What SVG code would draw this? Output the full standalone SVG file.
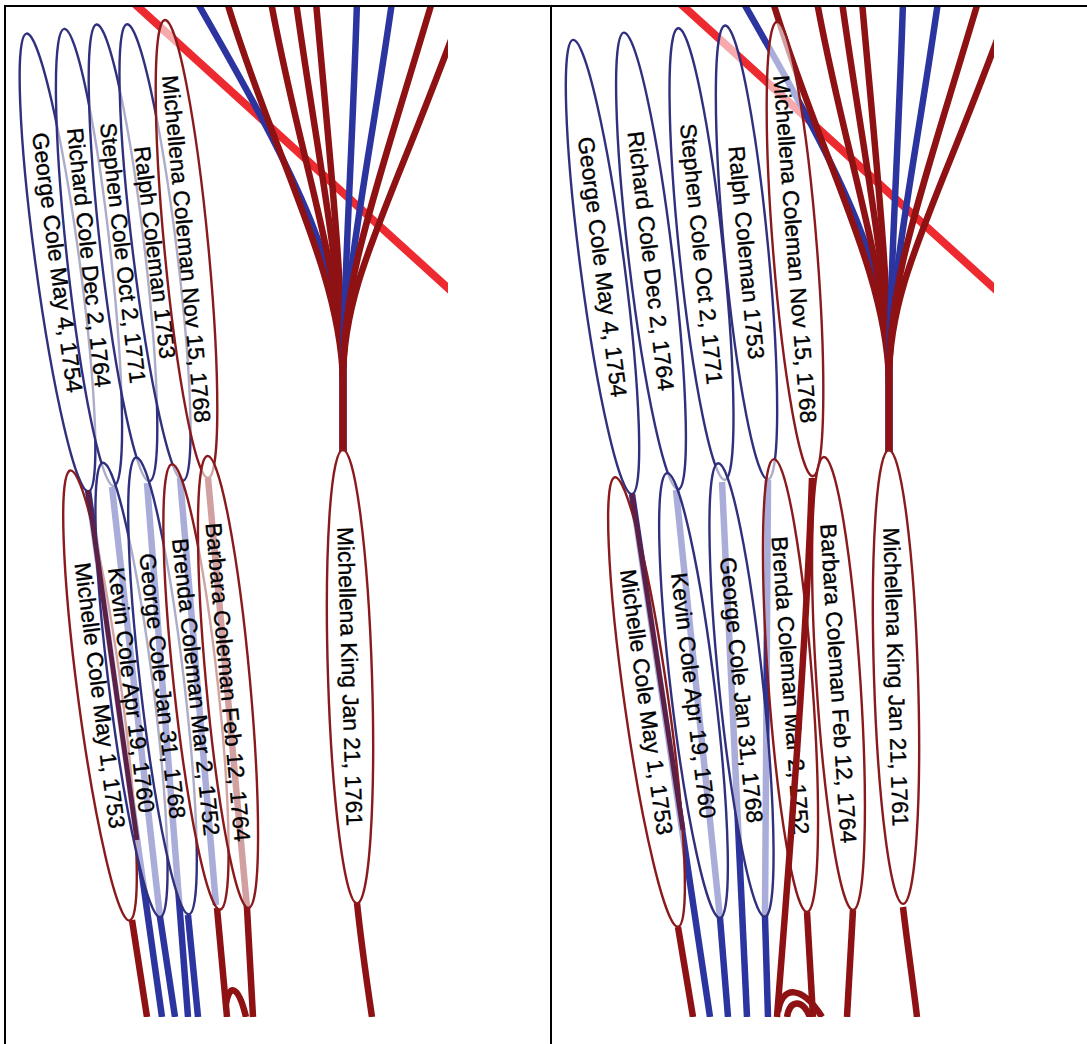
<svg xmlns="http://www.w3.org/2000/svg" width="1087" height="1044" viewBox="0 0 1087 1044">
<style>
.nb{fill:#fff;fill-opacity:.6;stroke:#30307e;stroke-width:2.4}
.nr{fill:#fff;fill-opacity:.6;stroke:#8a1a1c;stroke-width:2.4}
text{font-family:"Liberation Sans",Arial,sans-serif;font-size:22.8px;fill:#000;stroke:#000;stroke-width:.35;text-anchor:middle;dominant-baseline:central}
.eb{fill:none;stroke:#2c34a0;stroke-width:6.5}
.er{fill:none;stroke:#8e1214;stroke-width:6.5}
.ed{fill:none;stroke:#5a2048;stroke-width:5}
.strike{fill:none;stroke:#ec2a30;stroke-width:8}
.frame{stroke:#000;stroke-width:2;fill:none}
</style>
<defs>
<clipPath id="cl"><rect x="7" y="7" width="441" height="1010"/></clipPath>
<clipPath id="cr"><rect x="553" y="7" width="441" height="1010"/></clipPath>
<g id="fan">
<path class="eb" d="M197,2 C305,190 343,270 343,380 L343,452"/>
<path class="er" d="M227,2 C275,160 340,270 343,380 L343,452"/>
<path class="er" d="M271,2 C300,160 342,270 343,380 L343,452"/>
<path class="er" d="M296,2 C318,160 342,270 343,380 L343,452"/>
<path class="er" d="M316,2 C330,160 342,270 343,380 L343,452"/>
<path class="eb" d="M357,2 C352,160 344,270 343,380 L343,452"/>
<path class="eb" d="M392,2 C368,170 345,270 343,380 L343,452"/>
<path class="er" d="M432,2 C370,210 343,280 343,380 L343,452"/>
<path class="er" d="M465,2 C390,210 343,280 343,380 L343,452"/>
</g>
</defs>
<rect width="1087" height="1044" fill="#fff"/>
<g id="frame">
<path class="frame" d="M4,6 H1087 M5,5 V1044 M551,5 V1044"/>
</g>
<g id="strikes">
<line class="strike" x1="125" y1="-5" x2="460" y2="299" clip-path="url(#cl)"/>
<line class="strike" x1="671" y1="-5" x2="1006" y2="299" clip-path="url(#cr)"/>
</g>
<g id="connectors">
<g clip-path="url(#cl)">
<use href="#fan"/>
<path class="eb" d="M88,490 L162,1017"/>
<path class="eb" d="M112,487 L160,917 L175,1017"/>
<path class="eb" d="M147,483 L188,1017"/>
<path class="eb" d="M188,915 L198,1017"/>
<path class="eb" d="M180,478 L216,905"/>
<path class="er" d="M217,908 L227,1017"/>
<path class="er" d="M208,478 L247,908 L253,1017"/>
<path class="er" d="M132,920 L147,1017"/>
<path class="er" d="M357,903 C362,950 368,990 372,1017"/>
<path class="er" d="M226,1004 C229,984 238,984 246,1017"/>
</g>
<g clip-path="url(#cr)">
<use href="#fan" transform="translate(546,0)"/>
<path class="eb" d="M632,494 L710,1017"/>
<path class="eb" d="M676,490 L720,918 L728,1017"/>
<path class="eb" d="M722,482 L747,1017"/>
<path class="eb" d="M768,480 C767,650 765,800 765,917 L768,1017"/>
<path class="er" d="M678,927 L693,1017"/>
<path class="er" d="M807,912 L813,1017"/>
<path class="er" d="M853,910 L847,1017"/>
<path class="er" d="M903,907 C908,950 914,990 917,1017"/>
<path class="er" d="M778,1012 C782,985 802,985 822,1017"/>
<path class="er" d="M787,1017 C790,1000 802,998 810,1017"/>
</g>
</g>
<g id="nodes">
<g id="l-george-1754"><ellipse class="nb" rx="231" ry="22" transform="translate(57.5,262.5) rotate(82.3)"/><text transform="translate(57.5,262.5) rotate(82.3)" textLength="262" lengthAdjust="spacingAndGlyphs">George Cole May 4, 1754</text></g>
<g id="l-richard"><ellipse class="nb" rx="230" ry="22" transform="translate(89,257.5) rotate(83.8)"/><text transform="translate(89,257.5) rotate(83.8)" textLength="261" lengthAdjust="spacingAndGlyphs">Richard Cole Dec 2, 1764</text></g>
<g id="l-stephen"><ellipse class="nb" rx="230" ry="22" transform="translate(123,253) rotate(83.4)"/><text transform="translate(123,253) rotate(83.4)" textLength="262" lengthAdjust="spacingAndGlyphs">Stephen Cole Oct 2, 1771</text></g>
<g id="l-ralph"><ellipse class="nb" rx="230" ry="22" transform="translate(155,252.5) rotate(83)"/><text transform="translate(155,252.5) rotate(83)" textLength="214" lengthAdjust="spacingAndGlyphs">Ralph Coleman 1753</text></g>
<g id="l-michellena-coleman"><ellipse class="nr" rx="230" ry="22" transform="translate(186.5,249) rotate(84.6)"/><text transform="translate(186.5,249) rotate(84.6)" textLength="349" lengthAdjust="spacingAndGlyphs">Michellena Coleman Nov 15, 1768</text></g>
<g id="l-michelle"><ellipse class="nr" rx="227" ry="22" transform="translate(100,695.5) rotate(82.5)"/><text transform="translate(100,695.5) rotate(82.5)" textLength="268" lengthAdjust="spacingAndGlyphs">Michelle Cole May 1, 1753</text></g>
<g id="l-kevin"><ellipse class="nb" rx="229" ry="22" transform="translate(131.5,690) rotate(82.8)"/><text transform="translate(131.5,690) rotate(82.8)" textLength="247" lengthAdjust="spacingAndGlyphs">Kevin Cole Apr 19, 1760</text></g>
<g id="l-george-1768"><ellipse class="nb" rx="230" ry="22" transform="translate(162.5,686) rotate(83.4)"/><text transform="translate(162.5,686) rotate(83.4)" textLength="267" lengthAdjust="spacingAndGlyphs">George Cole Jan 31, 1768</text></g>
<g id="l-brenda"><ellipse class="nr" rx="224" ry="22" transform="translate(196,687) rotate(83.8)"/><text transform="translate(196,687) rotate(83.8)" textLength="299" lengthAdjust="spacingAndGlyphs">Brenda Coleman Mar 2, 1752</text></g>
<g id="l-barbara"><ellipse class="nr" rx="227" ry="22" transform="translate(228,682) rotate(84.8)"/><text transform="translate(228,682) rotate(84.8)" textLength="320" lengthAdjust="spacingAndGlyphs">Barbara Coleman Feb 12, 1764</text></g>
<g id="l-michellena-king"><ellipse class="nr" rx="227" ry="22" transform="translate(350,676.5) rotate(88.2)"/><text transform="translate(350,676.5) rotate(88.2)" textLength="299" lengthAdjust="spacingAndGlyphs">Michellena King Jan 21, 1761</text></g>

<g id="r-george-1754"><ellipse class="nb" rx="229" ry="22" transform="translate(602.5,267) rotate(82.6)"/><text transform="translate(602.5,267) rotate(82.6)" textLength="262" lengthAdjust="spacingAndGlyphs">George Cole May 4, 1754</text></g>
<g id="r-richard"><ellipse class="nb" rx="230" ry="22" transform="translate(651,261) rotate(83.2)"/><text transform="translate(651,261) rotate(83.2)" textLength="261" lengthAdjust="spacingAndGlyphs">Richard Cole Dec 2, 1764</text></g>
<g id="r-stephen"><ellipse class="nb" rx="227" ry="22" transform="translate(701.5,254) rotate(84.1)"/><text transform="translate(701.5,254) rotate(84.1)" textLength="262" lengthAdjust="spacingAndGlyphs">Stephen Cole Oct 2, 1771</text></g>
<g id="r-ralph"><ellipse class="nb" rx="228" ry="22" transform="translate(746.5,252.5) rotate(84.6)"/><text transform="translate(746.5,252.5) rotate(84.6)" textLength="214" lengthAdjust="spacingAndGlyphs">Ralph Coleman 1753</text></g>
<g id="r-michellena-coleman"><ellipse class="nr" rx="228" ry="22" transform="translate(795,249) rotate(85.5)"/><text transform="translate(795,249) rotate(85.5)" textLength="349" lengthAdjust="spacingAndGlyphs">Michellena Coleman Nov 15, 1768</text></g>
<g id="r-michelle"><ellipse class="nr" rx="227" ry="22" transform="translate(646.5,702) rotate(82)"/><text transform="translate(646.5,702) rotate(82)" textLength="268" lengthAdjust="spacingAndGlyphs">Michelle Cole May 1, 1753</text></g>
<g id="r-kevin"><ellipse class="nb" rx="224" ry="22" transform="translate(693.5,695.5) rotate(83.2)"/><text transform="translate(693.5,695.5) rotate(83.2)" textLength="247" lengthAdjust="spacingAndGlyphs">Kevin Cole Apr 19, 1760</text></g>
<g id="r-george-1768"><ellipse class="nb" rx="228" ry="22" transform="translate(741.5,690) rotate(84.1)"/><text transform="translate(741.5,690) rotate(84.1)" textLength="267" lengthAdjust="spacingAndGlyphs">George Cole Jan 31, 1768</text></g>
<g id="r-brenda"><ellipse class="nr" rx="227" ry="22" transform="translate(790.5,685.5) rotate(85.8)"/><text transform="translate(790.5,685.5) rotate(85.8)" textLength="299" lengthAdjust="spacingAndGlyphs">Brenda Coleman Mar 2, 1752</text></g>
<g id="r-barbara"><ellipse class="nr" rx="227" ry="22" transform="translate(838.5,683.5) rotate(86.3)"/><text transform="translate(838.5,683.5) rotate(86.3)" textLength="320" lengthAdjust="spacingAndGlyphs">Barbara Coleman Feb 12, 1764</text></g>
<g id="r-michellena-king"><ellipse class="nr" rx="227" ry="22" transform="translate(896,677) rotate(88.2)"/><text transform="translate(896,677) rotate(88.2)" textLength="299" lengthAdjust="spacingAndGlyphs">Michellena King Jan 21, 1761</text></g>
</g>
<g id="connectors-front">
<path class="ed" d="M88,490 L137,840"/>
<path class="ed" d="M632,494 L683,830"/>
<path class="er" d="M812,478 C806,650 790,850 777,1017"/>
</g>
</svg>
